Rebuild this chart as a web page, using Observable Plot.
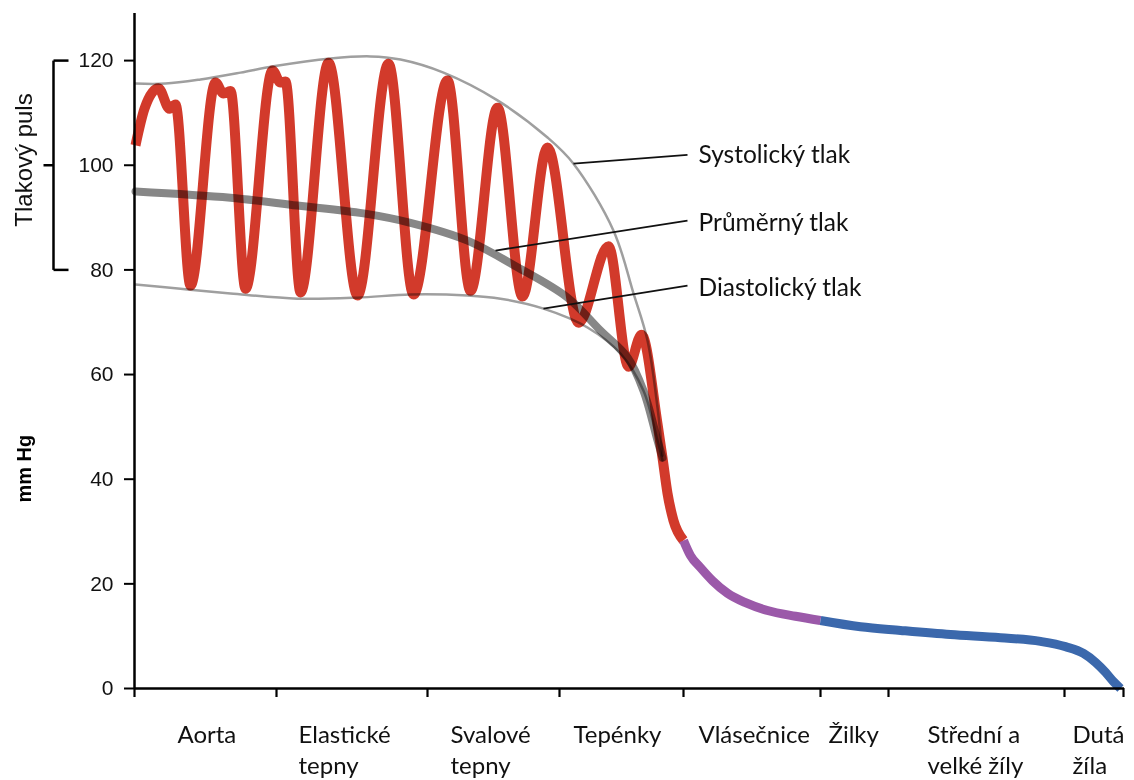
<!DOCTYPE html>
<html>
<head>
<meta charset="utf-8">
<script src="https://cdn.jsdelivr.net/npm/d3@7"></script>
<script src="https://cdn.jsdelivr.net/npm/@observablehq/plot@0.6"></script>
<style>
  html, body { margin: 0; padding: 0; background: #fff; }
  #chart svg { display: block; }
</style>
</head>
<body>
<div id="chart"></div>
<script>
// ---- Data (x = position along the vascular bed, arbitrary units 0..990; y = mm Hg) ----
const segmentBounds = [0, 142, 293, 425, 549, 686, 754, 930, 989];
const categoryLabels = ["Aorta", "Elastické\ntepny", "Svalové\ntepny", "Tepénky", "Vlásečnice", "Žilky", "Střední a\nvelké žíly", "Dutá\nžíla"];
const categoryLabelX = [43, 164, 316, 439, 564, 694, 793, 938];
const yTicks = [0, 20, 40, 60, 80, 100, 120];

// Arterial pressure wave (red)
const arterialX = [1, 10, 24, 35, 41, 56, 81, 89, 96, 111, 138, 146, 151, 166, 194, 223, 254, 279, 313, 336, 363, 388, 413, 444, 474, 494, 507, 523, 528, 533, 539, 549];
const arterialY = [103.8, 110.8, 114.7, 110.8, 111.6, 77.0, 115.8, 113.7, 114.2, 76.4, 118.1, 115.8, 116.0, 75.7, 119.6, 75.1, 119.4, 75.3, 116.2, 76.0, 111.0, 74.9, 103.4, 69.9, 84.5, 61.5, 67.6, 50.6, 44.1, 37.3, 32.1, 28.3];

// Capillaries (purple)
const capillaryX = [549, 556, 566, 578, 593, 611, 633, 661, 686];
const capillaryY = [28.3, 25.4, 23.1, 20.6, 18.2, 16.4, 14.9, 13.8, 13.0];

// Veins (blue)
const venousX = [686, 726, 766, 816, 866, 906, 931, 949, 961, 971, 979, 986];
const venousY = [13.0, 11.8, 11.1, 10.3, 9.7, 9.0, 8.0, 6.7, 5.0, 3.1, 1.3, 0];

// Systolic envelope
const systolicX = [1, 31, 66, 106, 139, 196, 236, 266, 309, 363, 413, 439, 479, 499, 513, 523, 528];
const systolicY = [115.6, 115.6, 116.4, 117.7, 118.9, 120.4, 120.8, 120.2, 117.7, 112.4, 105.3, 100.3, 87.5, 75.5, 66.5, 53.7, 44.5];

// Mean pressure
const meanX = [1, 96, 163, 229, 276, 333, 383, 433, 466, 493, 509, 523, 528];
const meanY = [95.0, 93.8, 92.3, 90.8, 89.0, 85.6, 80.5, 74.7, 68.4, 63.3, 56.9, 47.4, 44.1];

// Diastolic envelope
const diastolicX = [1, 46, 96, 163, 223, 276, 333, 366, 409, 453, 486, 509, 523, 528];
const diastolicY = [77.2, 76.4, 75.5, 74.5, 74.7, 75.3, 75.1, 74.5, 72.6, 69.0, 64.0, 56.9, 47.4, 43.6];

// Annotations
const annotationLabels = ["Systolický tlak", "Průměrný tlak", "Diastolický tlak"];
const annotationFromX = [439, 361, 409];
const annotationFromY = [100.3, 83.7, 72.6];
const annotationToX = [553, 553, 553];
const annotationToY = [102.0, 89.4, 77.0];
const annotationTextX = [564, 564, 564];
const annotationTextY = [101.9, 89.0, 76.6];

// Pulse-pressure bracket (mm Hg range)
const pulseRange = [80, 120];
const pulseMid = 100;

// ---- Build tables ----
const zip = (xs, ys) => xs.map((x, i) => ({x, y: ys[i]}));
const arterial = zip(arterialX, arterialY);
const capillary = zip(capillaryX, capillaryY);
const venous = zip(venousX, venousY);
const systolic = zip(systolicX, systolicY);
const meanP = zip(meanX, meanY);
const diastolic = zip(diastolicX, diastolicY);
const categories = categoryLabels.map((label, i) => ({label, x: categoryLabelX[i]}));
const annotations = annotationLabels.map((label, i) => ({
  label, x1: annotationFromX[i], y1: annotationFromY[i], x2: annotationToX[i], y2: annotationToY[i],
  tx: annotationTextX[i], ty: annotationTextY[i]
}));

const bracketX = -81, bracketSerif = -66, bracketTick = -91;
const labelFont = "Lato, 'Open Sans', sans-serif";
const axisFont = "'Liberation Sans', Arial, sans-serif";

const chart = Plot.plot({
  width: 1134,
  height: 780,
  marginLeft: 134,
  marginRight: 10,
  marginTop: 13,
  marginBottom: 92,
  x: {domain: [0, 990], axis: null},
  y: {domain: [0, 129], axis: null},
  style: {background: "#fff", overflow: "visible"},
  marks: [
    Plot.line(arterial, {x: "x", y: "y", stroke: "#d23a2b", strokeWidth: 10, curve: "monotone-x", strokeLinejoin: "round", strokeLinecap: "butt"}),
    Plot.line(capillary, {x: "x", y: "y", stroke: "#9b59a9", strokeWidth: 9, curve: "monotone-x", strokeLinecap: "butt"}),
    Plot.line(venous, {x: "x", y: "y", stroke: "#3b68ac", strokeWidth: 9, curve: "monotone-x", strokeLinecap: "butt"}),
    Plot.line(meanP, {x: "x", y: "y", stroke: "#878787", strokeWidth: 8, curve: "catmull-rom", mixBlendMode: "multiply"}),
    Plot.line(systolic, {x: "x", y: "y", stroke: "#9f9f9f", strokeWidth: 2.5, curve: "catmull-rom", mixBlendMode: "multiply"}),
    Plot.line(diastolic, {x: "x", y: "y", stroke: "#9f9f9f", strokeWidth: 2.5, curve: "catmull-rom", mixBlendMode: "multiply"}),
    Plot.link(annotations, {x1: "x1", y1: "y1", x2: "x2", y2: "y2", stroke: "#111", strokeWidth: 1.8}),
    Plot.text(annotations, {x: "tx", y: "ty", text: "label", textAnchor: "start", fontSize: 24.5, fontFamily: labelFont, fill: "#111"}),
    // axes
    Plot.ruleX([0], {stroke: "#000", strokeWidth: 2.5}),
    Plot.ruleY([0], {stroke: "#000", strokeWidth: 2.5}),
    Plot.axisY({ticks: yTicks, tickSize: 10, tickPadding: 11, fontSize: 21, fontFamily: axisFont, stroke: "#000", fill: "#111", strokeWidth: 2}),
    Plot.axisX({ticks: segmentBounds, tickSize: 9, tickFormat: () => "", stroke: "#000", strokeWidth: 2.2}),
    Plot.text(categories, {x: "x", y: 0, text: "label", textAnchor: "start", lineAnchor: "top", dy: 32, fontSize: 24, lineHeight: 1.3, fontFamily: labelFont, fill: "#111"}),
    // pulse bracket
    Plot.link([pulseRange], {x1: bracketX, x2: bracketX, y1: d => d[0], y2: d => d[1], stroke: "#000", strokeWidth: 2.5}),
    Plot.link(pulseRange, {x1: bracketX, x2: bracketSerif, y1: d => d, y2: d => d, stroke: "#000", strokeWidth: 2.5}),
    Plot.link([pulseMid], {x1: bracketTick, x2: bracketX, y1: d => d, y2: d => d, stroke: "#000", strokeWidth: 2.5}),
    Plot.text(["Tlakový puls"], {x: -110, y: pulseMid + 1, text: d => d, rotate: -90, fontSize: 24, fontFamily: axisFont, fill: "#111"}),
    Plot.text(["mm Hg"], {x: -110, y: 42, text: d => d, rotate: -90, fontSize: 20, fontWeight: "bold", fontFamily: axisFont, fill: "#000"})
  ]
});

document.getElementById("chart").appendChild(chart);
</script>
</body>
</html>
